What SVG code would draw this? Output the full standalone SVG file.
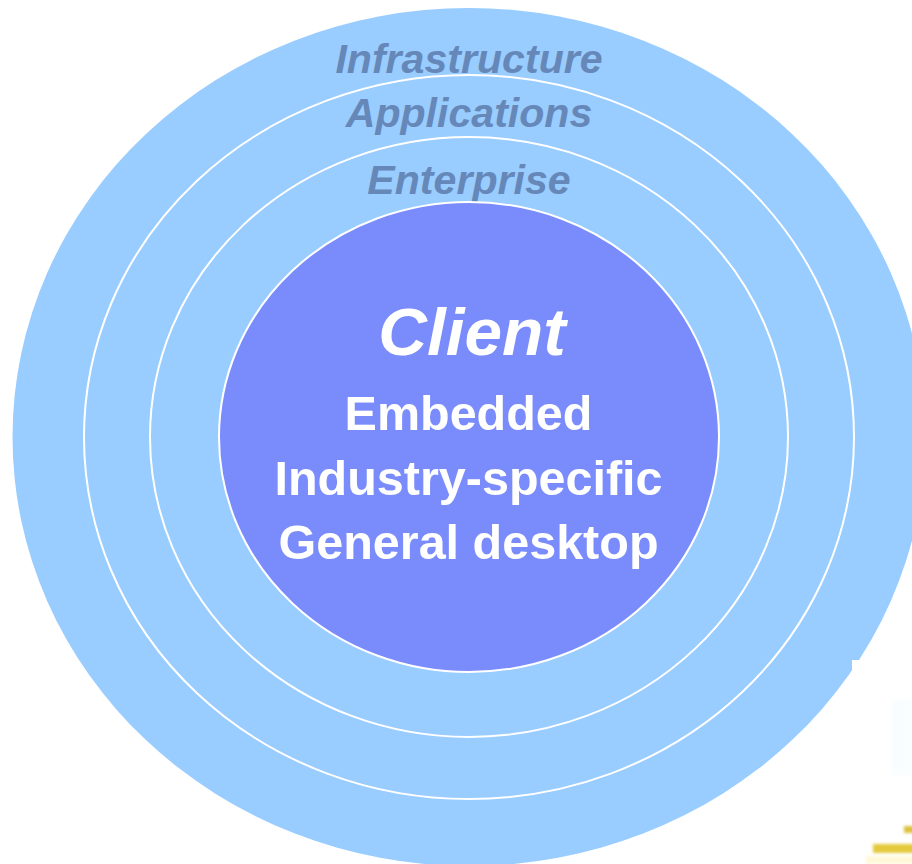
<svg xmlns="http://www.w3.org/2000/svg" width="912" height="864" viewBox="0 0 912 864">
<style>
.o{stroke:#fff;stroke-width:2}
.a{font:italic bold 41.1px "Liberation Sans",Arial,sans-serif;fill:#6688b8;text-anchor:middle}
.w{font:bold 48.5px "Liberation Sans",Arial,sans-serif;fill:#fff;text-anchor:middle}
</style>
<defs><filter id="b" x="-50%" y="-150%" width="200%" height="400%"><feGaussianBlur stdDeviation="1.500"/></filter></defs>
<rect width="912" height="864" fill="#fff"/>
<g id="infrastructure"><ellipse cx="469" cy="437" rx="456.500" ry="429" fill="#99ccff"/><text class="a" x="469" y="73">Infrastructure</text></g>
<g id="applications"><ellipse class="o" cx="469" cy="437" rx="385" ry="362" fill="#99ccff"/><text class="a" x="469" y="127">Applications</text></g>
<g id="enterprise"><ellipse class="o" cx="469" cy="437" rx="319" ry="300" fill="#99ccff"/><text class="a" x="469" y="194">Enterprise</text></g>
<g id="client"><ellipse class="o" cx="469" cy="437" rx="250" ry="235" fill="#7a8cfc"/>
<text x="472" y="355" style="font:italic bold 67.500px 'Liberation Sans',Arial,sans-serif;fill:#fff;text-anchor:middle">Client</text>
<text class="w" x="468.500" y="430">Embedded</text><text class="w" x="468.500" y="495">Industry-specific</text><text class="w" x="468.500" y="559">General desktop</text></g>
<g id="corner">
<rect x="852" y="660" width="60" height="204" fill="#fff"/>
<rect x="892" y="700" width="20" height="76" fill="#f8fdff" filter="url(#b)"/>
<rect x="904" y="826" width="10" height="7" fill="#dcc23a" filter="url(#b)"/>
<rect x="873" y="844" width="42" height="9" fill="#e3c93a" filter="url(#b)"/>
<rect x="866" y="856" width="50" height="8" fill="#fff8d8" filter="url(#b)"/>
</g>
<g id="connectors"/>
</svg>
